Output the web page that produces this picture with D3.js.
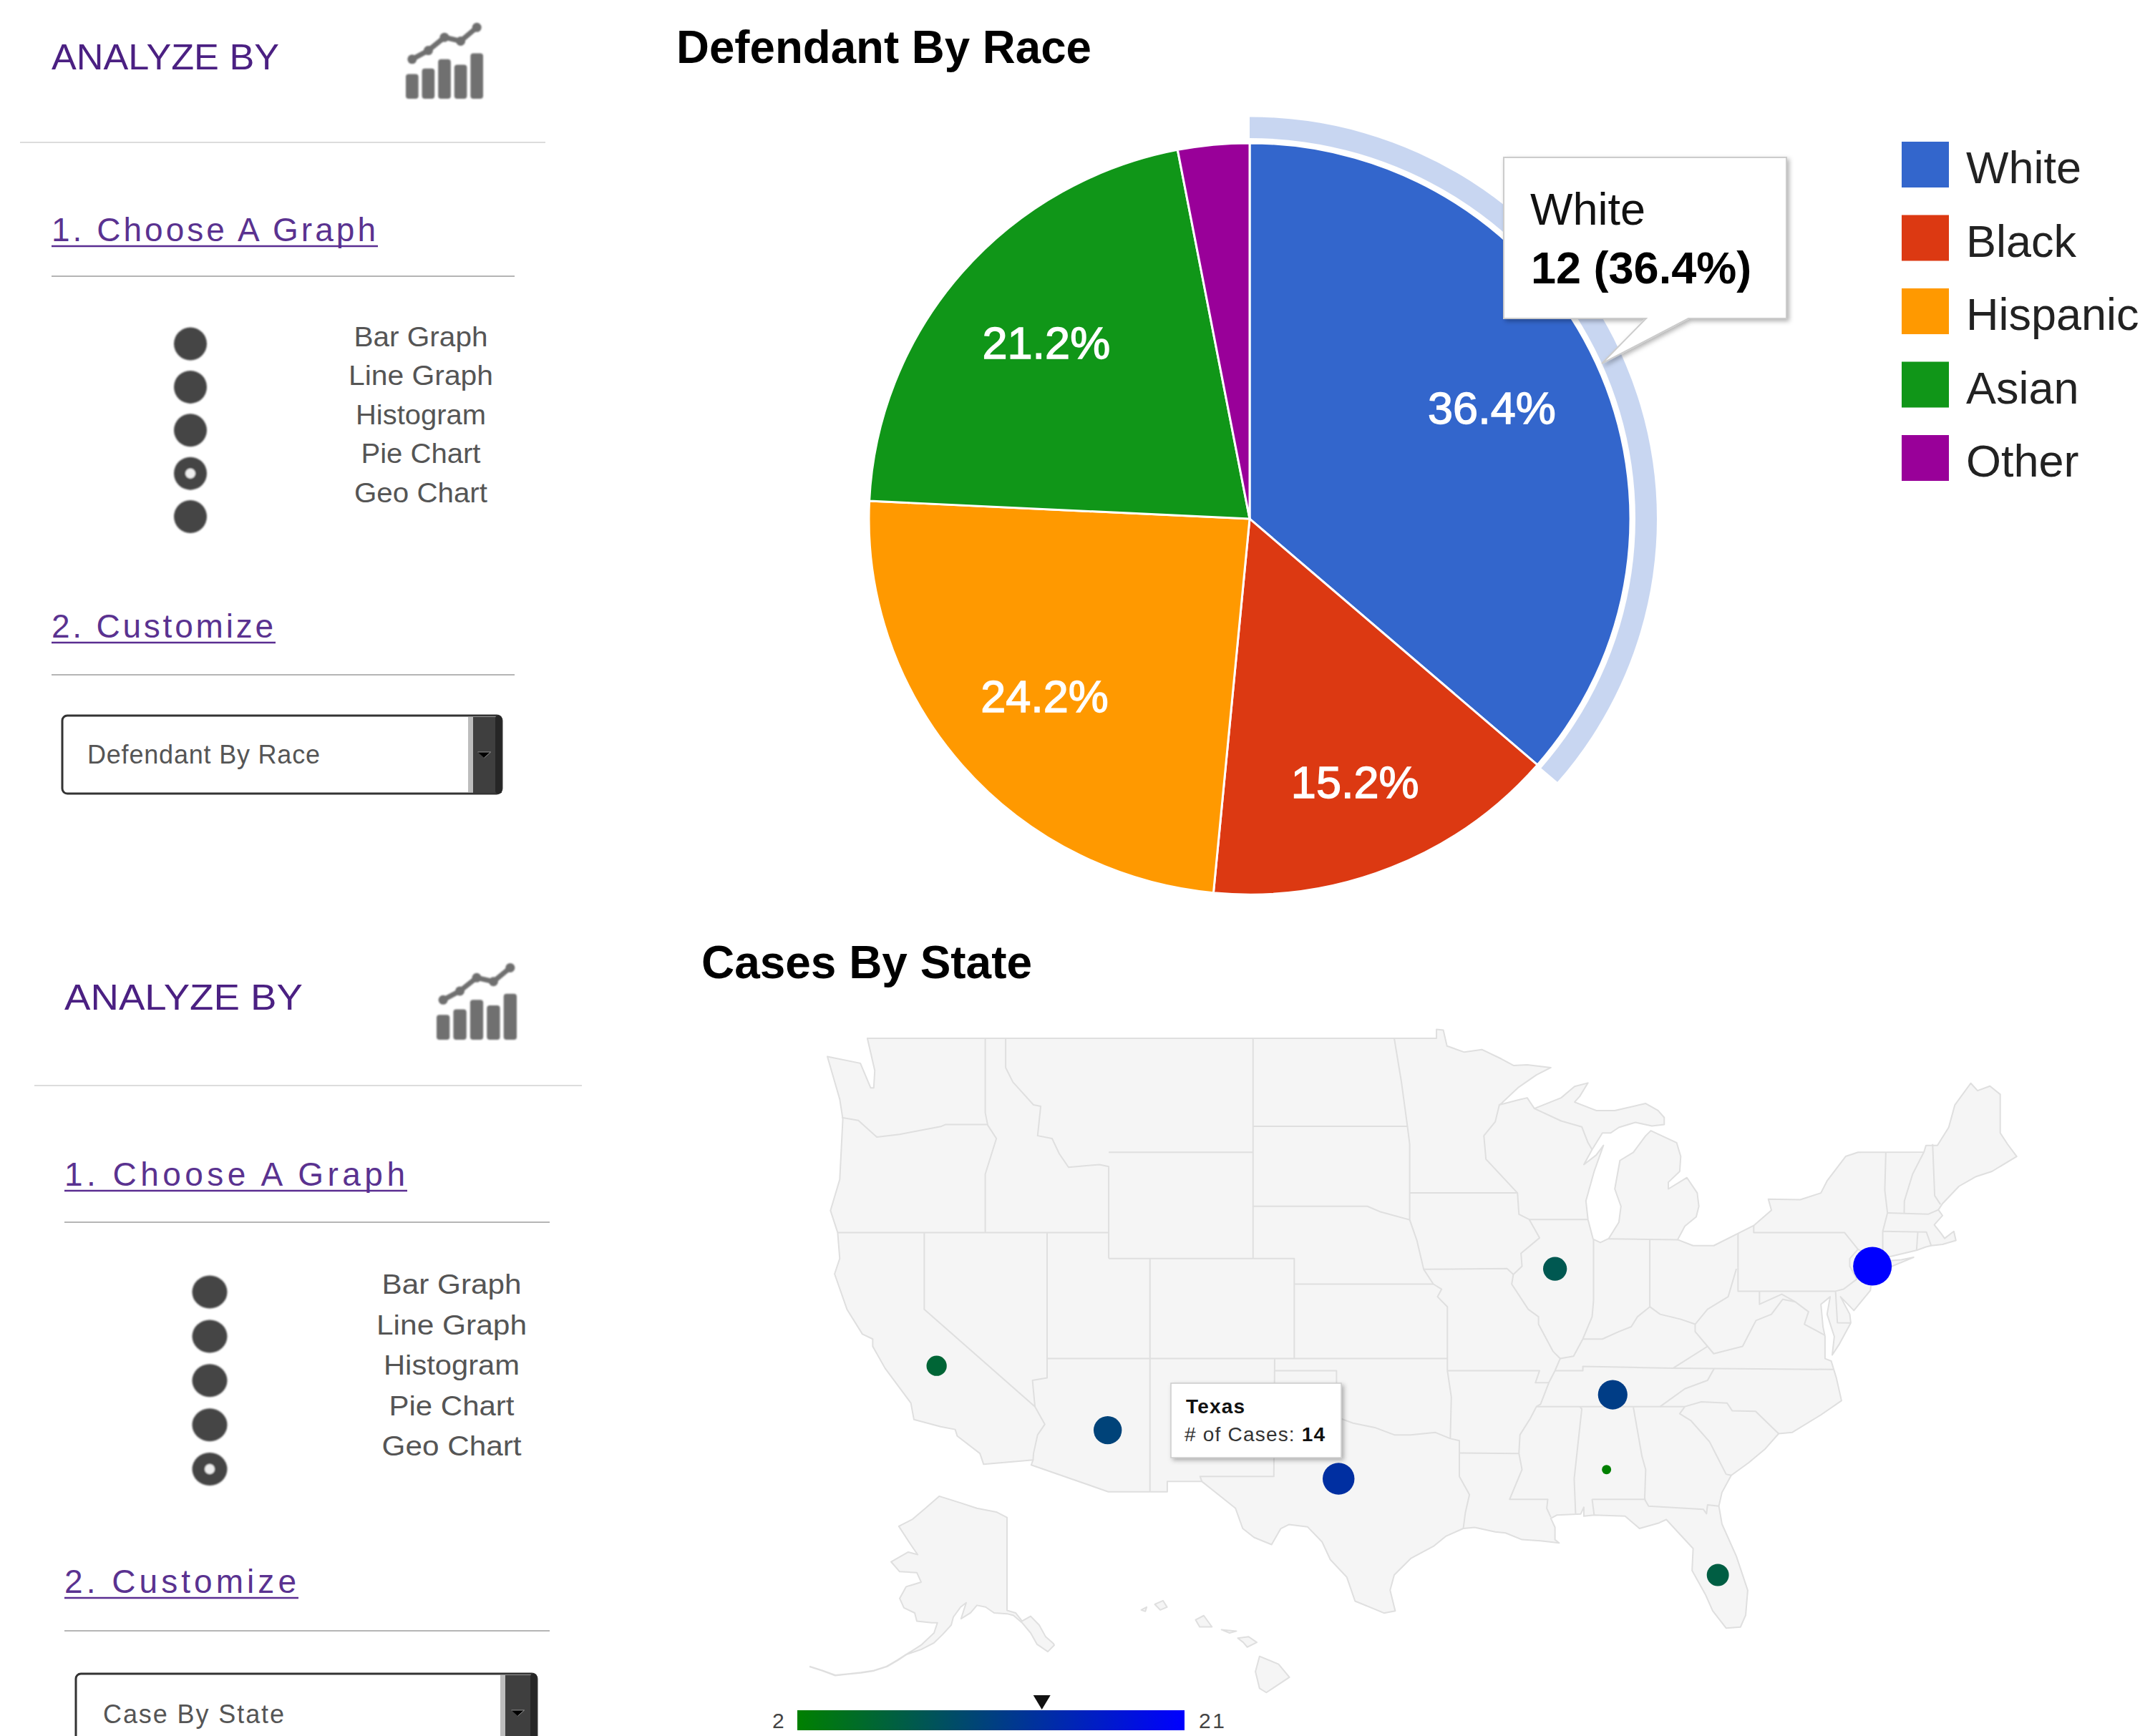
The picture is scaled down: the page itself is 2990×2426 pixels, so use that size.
<!DOCTYPE html>
<html>
<head>
<meta charset="utf-8">
<script src="https://cdn.jsdelivr.net/npm/d3@7"></script>
<style>
  body { margin: 0; background: #fff; }
  text { font-family: "Liberation Sans", Arial, sans-serif; }
</style>
</head>
<body>
<script>
// pie data
const raceNames = ["White", "Black", "Hispanic", "Asian", "Other"];
const raceCases = [12, 5, 8, 7, 1];
const raceColors = ["#3366cc", "#dc3912", "#ff9900", "#109618", "#990099"];

// geo data
const caseStates = ["California", "Arizona", "Texas", "Illinois", "Tennessee", "New York", "Alabama", "Florida"];
const caseValues = [6, 11, 14, 8, 12, 21, 2, 7];
const caseLon = [-119.4, -111.1, -99.9, -89.4, -86.6, -74.0, -86.9, -81.5];
const caseLat = [36.7, 34.0, 31.9, 40.6, 35.5, 40.7, 32.3, 27.6];
const caseRange = [2, 21];

// side panel text
const graphOptions = ["Bar Graph", "Line Graph", "Histogram", "Pie Chart", "Geo Chart"];
const iconBars = [45, 55, 72, 62, 83];
const iconLine = [72, 88, 112, 105, 130];

// basemap, lon/lat
const land48 = [[-122.76,49],[-95.15,49],[-95.15,49.3],[-94.82,49.28],[-94.64,48.74],[-93.8,48.53],[-92.95,48.62],[-92,48.3],[-91.4,48.07],[-90.75,48.1],[-89.6,48],[-90.3,47.75],[-91.2,47.3],[-92,46.75],[-92.1,46.7],[-91.2,46.87],[-90.75,46.95],[-90.4,46.57],[-89.1,46.95],[-88.45,47.35],[-87.8,47.47],[-88.2,47],[-88.45,46.8],[-87.4,46.5],[-86.5,46.5],[-85,46.75],[-84.4,46.5],[-84.1,46.25],[-84.1,46],[-84.7,45.95],[-85.5,46.08],[-86.3,45.9],[-86.7,45.7],[-87.1,45.7],[-87.6,45.1],[-88,44.55],[-87.4,44.9],[-87.05,45.25],[-87.5,44.3],[-87.9,43.2],[-87.8,42.5],[-87.55,41.75],[-87.2,41.62],[-86.8,41.77],[-86.3,42.4],[-86.2,43],[-86.5,43.65],[-86.25,44.7],[-85.6,45],[-85,45.6],[-84.75,45.78],[-83.5,45.35],[-83.3,44.85],[-83.35,44.3],[-83.9,43.9],[-83.9,43.65],[-83,44.07],[-82.5,43.5],[-82.42,43],[-82.55,42.6],[-83.1,42.25],[-83.45,41.73],[-82.7,41.5],[-81.7,41.5],[-80.5,41.98],[-79.76,42.27],[-78.9,42.85],[-79.05,43.27],[-77.5,43.25],[-76.5,43.5],[-76.2,43.95],[-75.3,44.85],[-74.7,45],[-71.5,45.01],[-71.4,45.25],[-70.85,45.25],[-70.3,45.9],[-70,46.7],[-69.23,47.46],[-68.9,47.2],[-68.3,47.36],[-67.8,47.07],[-67.8,45.7],[-67.45,45.3],[-67,44.85],[-68.2,44.3],[-69,44.1],[-69.8,43.75],[-70.6,43.1],[-70.8,42.87],[-70.6,42.65],[-71,42.3],[-70.65,41.95],[-70.5,41.78],[-70.05,42.05],[-69.95,41.7],[-70.6,41.55],[-71.15,41.5],[-71.4,41.45],[-71.86,41.32],[-73.65,40.98],[-74,40.75],[-74,40.45],[-74.1,39.75],[-74.9,38.95],[-75.55,39.5],[-75.1,38.8],[-75.05,38.45],[-75.6,37.6],[-75.95,37.15],[-75.85,37.9],[-76.2,38.8],[-76.05,39.5],[-76.5,39.2],[-76.4,38.3],[-76.3,37.9],[-76.3,37],[-76,36.9],[-75.75,36.2],[-75.5,35.25],[-76.5,34.65],[-77.9,33.9],[-78.55,33.85],[-79.2,33.2],[-80,32.6],[-80.85,32.05],[-81.3,31.3],[-81.45,30.7],[-81.3,29.9],[-80.6,28.45],[-80.05,26.9],[-80.15,25.75],[-80.4,25.2],[-81.1,25.15],[-81.75,25.95],[-82.1,26.7],[-82.75,27.8],[-82.7,28.8],[-83.4,29.5],[-84,30.1],[-84.35,29.95],[-85.3,29.7],[-86,30.25],[-87.5,30.3],[-88,30.25],[-88,30.65],[-88.15,30.35],[-89.3,30.3],[-89.6,30.15],[-89.4,29.75],[-89.4,29.2],[-89.2,29.05],[-90.1,29.15],[-91,29.2],[-91.8,29.5],[-92.3,29.55],[-93.3,29.75],[-93.85,29.7],[-94.7,29.35],[-95.3,28.9],[-96.4,28.35],[-97.2,27.6],[-97.4,26.9],[-97.15,25.95],[-97.7,25.85],[-98.2,26.05],[-99.1,26.4],[-99.5,27.5],[-100.3,28.3],[-100.7,29.1],[-101.4,29.77],[-102.3,29.88],[-102.7,29.7],[-103.15,28.98],[-104,29.3],[-104.55,29.7],[-104.9,30.6],[-106,31.4],[-106.53,31.78],[-108.21,31.78],[-108.21,31.33],[-111.07,31.33],[-114.81,32.5],[-114.72,32.72],[-117.12,32.53],[-117.3,33],[-118.4,33.75],[-118.5,34.03],[-119.2,34.15],[-120.5,34.45],[-120.65,35.15],[-121.9,36.6],[-122.5,37.5],[-122.5,37.8],[-123,38],[-123.75,39],[-124.35,40.4],[-124.1,41],[-124.2,42],[-124.55,42.84],[-124.1,44],[-123.95,46.2],[-124.1,46.9],[-124.7,48.38],[-123.1,48.15],[-122.6,47.3],[-122.45,47.3],[-122.4,47.9]];
const longIsland = [[-74,40.6],[-73.2,40.65],[-72,41.05],[-72.6,40.95],[-73.7,40.88]];
const stateLines = [
  [[-117.04,49],[-117.04,46.42],[-116.92,45.98],[-116.5,45.5],[-117.04,44.2],[-117.04,42]],
  [[-124,46.25],[-123.2,46.15],[-122.3,45.55],[-121.2,45.65],[-119.2,45.93],[-118.98,46],[-116.92,46]],
  [[-124.2,42],[-111.05,42]],
  [[-120,42],[-120,39],[-114.63,35]],
  [[-114.04,42],[-114.04,36.2],[-114.75,36.1],[-114.63,35],[-114.15,34.25],[-114.5,33.8],[-114.7,33],[-114.72,32.72]],
  [[-114.04,37],[-94.62,37]],
  [[-116.05,49],[-116.05,48],[-115.7,47.5],[-114.7,46.7],[-114.35,46.65],[-114.5,45.6],[-113.8,45.5],[-113.45,44.95],[-113,44.45],[-111.5,44.55],[-111.05,44.48],[-111.05,41]],
  [[-111.05,45],[-104.05,45]],
  [[-111.05,41],[-102.05,41],[-102.05,37]],
  [[-102.05,40],[-95.3,40]],
  [[-109.05,41],[-109.05,31.33]],
  [[-104.05,49],[-104.05,41]],
  [[-104.05,45.94],[-96.56,45.94]],
  [[-104.05,43],[-98.5,43],[-97.9,42.8],[-96.45,42.49]],
  [[-103,37],[-103.04,32],[-106.62,32],[-106.53,31.78]],
  [[-103,36.5],[-100,36.5],[-100,34.56],[-99.2,34.3],[-98.1,34.1],[-97.2,33.8],[-96.4,33.8],[-95.2,33.9],[-94.48,33.64],[-94.04,33.55],[-94.04,32],[-93.55,31.2],[-93.75,30.4],[-93.85,29.7]],
  [[-94.04,33.02],[-91.15,33]],
  [[-94.48,33.64],[-94.43,35.4],[-94.62,36.5],[-94.62,39.1],[-95.1,39.5],[-94.9,39.8],[-95.3,40],[-95.77,40.58],[-96.1,41.7],[-96.45,42.49],[-96.45,45.3],[-96.56,45.94],[-96.85,47.5],[-97.2,49]],
  [[-94.62,36.5],[-90.15,36.5],[-90.35,36],[-89.7,36]],
  [[-96.45,43.5],[-91.22,43.5]],
  [[-95.77,40.58],[-91.73,40.61],[-91.42,40.38]],
  [[-92.1,46.7],[-92.3,46.1],[-92.85,45.6],[-92.75,44.75],[-91.22,43.5],[-91.15,42.7],[-90.65,42.5],[-90.15,41.8],[-91.05,41.2],[-91,40.7],[-91.42,40.38],[-91.5,40],[-90.7,39],[-90.2,38.7],[-90.2,38.4],[-89.5,37.3],[-89.15,37],[-89.4,36.5],[-89.7,36],[-90.1,35.1],[-90.3,35],[-90.6,34.5],[-91.1,33.8],[-91.15,33],[-91,32.3],[-91.6,31],[-89.75,31],[-89.8,30.6],[-89.6,30.2]],
  [[-90.65,42.5],[-87.8,42.5]],
  [[-90.4,46.57],[-89.1,46.13],[-88.1,45.92],[-87.8,45.35],[-87.6,45.1]],
  [[-87.53,41.72],[-87.53,39.35],[-87.6,38.7],[-88.05,37.8],[-88.5,37.1],[-89.15,37]],
  [[-86.8,41.76],[-83.45,41.73]],
  [[-84.8,41.76],[-84.8,39.1]],
  [[-88.05,37.8],[-87.1,37.8],[-86.3,38.1],[-85.7,38.3],[-85.4,38.7],[-84.8,39.1],[-84.3,38.8],[-83.3,38.6],[-82.6,38.4],[-82,39],[-81,39.5],[-80.6,40.6]],
  [[-80.52,40.64],[-80.52,41.98]],
  [[-79.76,42.27],[-79.76,42],[-75.35,42],[-74.7,41.36],[-75.1,41],[-75.1,40.7],[-74.75,40.2],[-75.4,39.8],[-75.79,39.72]],
  [[-80.52,40.64],[-80.52,39.72],[-75.79,39.72],[-75.7,38.46],[-75.05,38.45]],
  [[-79.48,39.72],[-79.48,39.2],[-78.4,39.6],[-77.75,39.3],[-77.1,38.9],[-77.3,38.4],[-76.3,37.95]],
  [[-77.75,39.3],[-78.35,39.4],[-78.9,38.8],[-79.65,38.55],[-80.3,37.5],[-81.7,37.2],[-82,37.5],[-82.6,38.1],[-82.6,38.4]],
  [[-82,37.5],[-83.68,36.6]],
  [[-89.4,36.5],[-88.05,36.5],[-88.05,36.68],[-83.68,36.6],[-81.68,36.59],[-75.9,36.55]],
  [[-81.68,36.59],[-82,36.1],[-83.1,35.75],[-84.3,35]],
  [[-90.3,35],[-83.1,35]],
  [[-85.6,34.98],[-85.18,32.87],[-85,32.3],[-85.05,31],[-84.86,30.7],[-82.2,30.55],[-82.05,30.36],[-82,30.75],[-81.45,30.7]],
  [[-88.2,35],[-88.1,34.9],[-88.47,31.9],[-88.4,30.35]],
  [[-87.6,31],[-85,31]],
  [[-87.6,31],[-87.5,30.3]],
  [[-83.1,35],[-83.35,34.7],[-82.8,34.4],[-81.9,33.5],[-81.1,32.1],[-80.85,32.05]],
  [[-83.1,35],[-82.3,35.2],[-81.05,35.15],[-80.8,34.82],[-79.67,34.8],[-78.55,33.85]],
  [[-73.35,45],[-73.4,43.6],[-73.27,42.75],[-73.5,42.05],[-73.5,41.3],[-73.65,41]],
  [[-71.5,45.01],[-72.05,44.2],[-72.45,43.2],[-72.46,42.73]],
  [[-73.27,42.75],[-71.3,42.7],[-70.8,42.87]],
  [[-71.08,45.3],[-70.98,43.4],[-70.7,43.07]],
  [[-73.5,42.05],[-71.38,42.02],[-71.15,41.5]],
  [[-71.8,42.02],[-71.86,41.32]],
  [[-74.7,41.36],[-73.9,41]]
];
const alaskaLand = [[-141,69.65],[-143.5,70.1],[-148,70.4],[-152,70.85],[-156.8,71.35],[-160,70.4],[-163,69.5],[-166.2,68.9],[-164,67.6],[-163,67],[-161.8,66.3],[-164,66.55],[-168,65.6],[-166,64.6],[-162,64.5],[-161,63.5],[-164.5,63],[-166,61.7],[-165,60.6],[-162.5,60],[-162,59],[-158.5,58.8],[-157.2,58.8],[-158,57.5],[-161,55.9],[-164.5,54.6],[-161,55.3],[-158,56.2],[-156,57.3],[-154,58.5],[-153.5,59.5],[-151.8,60.7],[-150.5,61.2],[-151.7,59.3],[-149.5,60],[-148,60.9],[-146,60.7],[-144,60],[-141,59.9],[-139.5,59.7],[-137.5,58.8],[-135.5,57.5],[-134,56],[-131.5,55],[-130,55.9],[-130.2,56.1],[-132,57],[-133.5,58.5],[-135.5,59.6],[-137.5,59],[-139,60],[-141,60.3]];
const aleutians = [[-164.5,54.6],[-166.5,53.8],[-169,52.9],[-172,52.3],[-175,52],[-178,51.8],[-181,51.6],[-184,52.3],[-187,52.9]];
const hawaiiIslands = [
  [[-155.9,20.25],[-155.2,19.97],[-154.8,19.5],[-155.65,18.95],[-155.9,19.1],[-156.05,19.7]],
  [[-156.7,20.9],[-156.3,20.95],[-156,20.75],[-156.35,20.58],[-156.5,20.75]],
  [[-157.3,21.2],[-156.75,21.15],[-157,21.08]],
  [[-158.25,21.55],[-157.95,21.7],[-157.65,21.3],[-158.1,21.3]],
  [[-159.75,22.1],[-159.45,22.23],[-159.3,22],[-159.55,21.9]],
  [[-160.25,21.9],[-160.05,22],[-160.1,21.85]]
];

const width = 2990, height = 2426;

const svg = d3.select("body").append("svg")
  .attr("width", width)
  .attr("height", height)
  .style("display", "block");

const defs = svg.append("defs");
const shadow = defs.append("filter").attr("id", "tipShadow")
  .attr("x", "-10%").attr("y", "-10%").attr("width", "125%").attr("height", "125%");
shadow.append("feDropShadow")
  .attr("dx", 3).attr("dy", 3).attr("stdDeviation", 3)
  .attr("flood-color", "#000").attr("flood-opacity", 0.3);
const soft = defs.append("filter").attr("id", "soft");
soft.append("feGaussianBlur").attr("stdDeviation", 1.1);
const softMap = defs.append("filter").attr("id", "softMap");
softMap.append("feGaussianBlur").attr("stdDeviation", 0.7);

// text helper, fits the string to a measured width
function label(parent, str, x, y, size, fill, w, adjust) {
  const t = parent.append("text")
    .attr("x", x).attr("y", y)
    .attr("font-size", size)
    .attr("fill", fill)
    .text(str);
  if (w) t.attr("textLength", w).attr("lengthAdjust", adjust || "spacing");
  return t;
}

// ---------- side panels ----------
function drawPanel(p) {
  const g = svg.append("g");

  label(g, "ANALYZE BY", p.x0, p.headY, 50, "#4b2082", p.headW, "spacingAndGlyphs");

  // icon
  const ic = g.append("g").attr("transform", `translate(${p.icon[0]},${p.icon[1]})`)
    .attr("filter", "url(#soft)");
  const ix = d3.scaleBand().domain(d3.range(iconBars.length)).range([0, p.icon[2]])
    .paddingInner(0.22).paddingOuter(0);
  const iy = d3.scaleLinear().domain([0, 137]).range([p.icon[3], 0]);
  ic.selectAll("rect").data(iconBars).enter().append("rect")
    .attr("x", (d, i) => ix(i))
    .attr("y", d => iy(d))
    .attr("width", ix.bandwidth())
    .attr("height", d => iy(0) - iy(d))
    .attr("rx", 4)
    .attr("fill", "#6f6f6f");
  ic.append("path")
    .attr("d", d3.line().x((d, i) => ix(i) + ix.bandwidth() / 2).y(d => iy(d))(iconLine))
    .attr("fill", "none").attr("stroke", "#6f6f6f").attr("stroke-width", 7);
  ic.selectAll("circle").data(iconLine).enter().append("circle")
    .attr("cx", (d, i) => ix(i) + ix.bandwidth() / 2)
    .attr("cy", d => iy(d))
    .attr("r", 6.5)
    .attr("fill", "#6f6f6f");

  // rules
  g.append("line").attr("x1", p.rule0[0]).attr("x2", p.rule0[1]).attr("y1", p.rule0[2]).attr("y2", p.rule0[2])
    .attr("stroke", "#dcdcdc").attr("stroke-width", 2);
  [p.h1.ruleY, p.h2.ruleY].forEach(y => {
    g.append("line").attr("x1", p.x0).attr("x2", p.ruleX1).attr("y1", y).attr("y2", y)
      .attr("stroke", "#b5b5b5").attr("stroke-width", 2);
  });

  // step headings
  [["1. Choose A Graph", p.h1], ["2. Customize", p.h2]].forEach(([s, h]) => {
    label(g, s, p.x0, h.y, 46, "#5a3290", h.w - 3, "spacing");
    g.append("line").attr("x1", p.x0).attr("x2", p.x0 + h.w).attr("y1", h.y + 7).attr("y2", h.y + 7)
      .attr("stroke", "#5a2d91").attr("stroke-width", 2.5);
  });

  // radio column
  const ry = d3.scalePoint().domain(graphOptions).range(p.radioY);
  const radios = g.append("g").attr("filter", "url(#soft)");
  radios.selectAll("ellipse.dot").data(graphOptions).enter().append("ellipse")
    .attr("class", "dot")
    .attr("cx", p.radioX).attr("cy", d => ry(d))
    .attr("rx", p.radioR[0]).attr("ry", p.radioR[1])
    .attr("fill", "#444");
  radios.append("circle")
    .attr("cx", p.radioX).attr("cy", ry(p.selected)).attr("r", 7)
    .attr("fill", "#eee");

  const ly = d3.scalePoint().domain(graphOptions).range(p.labelY);
  graphOptions.forEach((o, i) => {
    label(g, o, p.labelX, ly(o), 38, "#555", p.labelW[i], "spacingAndGlyphs")
      .attr("text-anchor", "middle");
  });

  // dropdown
  const b = p.box;
  g.append("rect").attr("x", b.x).attr("y", b.y).attr("width", b.w).attr("height", b.h).attr("rx", 7)
    .attr("fill", "#fff").attr("stroke", "#333").attr("stroke-width", 3);
  g.append("rect").attr("x", b.btn).attr("y", b.y + 2).attr("width", 7).attr("height", b.h - 4).attr("fill", "#bdbdbd");
  g.append("rect").attr("x", b.btn + 7).attr("y", b.y + 2).attr("width", b.x + b.w - b.btn - 7).attr("height", b.h - 3).attr("fill", "#3f3f3f");
  g.append("rect").attr("x", b.x + b.w - 9).attr("y", b.y).attr("width", 9).attr("height", b.h).attr("rx", 4).attr("fill", "#262626");
  const cx = (b.btn + 7 + b.x + b.w - 9) / 2;
  const cy = b.y + 54;
  g.append("path").attr("d", d3.line()([[cx - 9, cy - 3], [cx + 9, cy - 3], [cx, cy + 5]])).attr("fill", "#000").attr("stroke", "#ddd").attr("stroke-width", 0.6);
  label(g, p.selText, b.textX, b.textY, 36, "#555", b.textW, "spacing");
}

drawPanel({
  x0: 72, headY: 97, headW: 318, icon: [567, 33, 108, 105],
  rule0: [28, 762, 199], ruleX1: 719,
  h1: { y: 337, w: 456, ruleY: 386 }, h2: { y: 891, w: 313, ruleY: 943 },
  radioX: 266, radioY: [480.5, 722], radioR: [23, 23], selected: "Pie Chart",
  labelX: 588, labelY: [483.5, 702], labelW: [187, 202, 182, 167, 186],
  box: { x: 87, y: 1000, w: 614, h: 109, btn: 654, textX: 122, textY: 1067, textW: 325 },
  selText: "Defendant By Race"
});
drawPanel({
  x0: 90, headY: 1411, headW: 333, icon: [610, 1347, 112, 106],
  rule0: [48, 813, 1517], ruleX1: 768,
  h1: { y: 1657, w: 479, ruleY: 1708 }, h2: { y: 2226, w: 327, ruleY: 2279 },
  radioX: 293, radioY: [1805.6, 2053], radioR: [24.5, 23], selected: "Geo Chart",
  labelX: 631, labelY: [1808, 2034], labelW: [195, 210, 190, 175, 195],
  box: { x: 106, y: 2339, w: 644, h: 130, btn: 699, textX: 144, textY: 2408, textW: 253 },
  selText: "Case By State"
});

// ---------- pie ----------
label(svg, "Defendant By Race", 945, 88, 64, "#000", 580, "spacingAndGlyphs").attr("font-weight", "bold");

const pieX = 1746, pieY = 725;
const pieData = d3.pie().sort(null)(raceCases);
const pieG = svg.append("g").attr("transform", `translate(${pieX},${pieY}) scale(1,0.987)`);
const sliceArc = d3.arc().innerRadius(0).outerRadius(532);
// labels do not sit on one radius in the source
const labelRadii = [372, 396, 379, 376, 0];
const labelArc = d3.arc().innerRadius((d, i) => labelRadii[i]).outerRadius((d, i) => labelRadii[i]);
const ringArc = d3.arc().innerRadius(539).outerRadius(569);

pieG.append("path")
  .attr("d", ringArc(pieData[0]))
  .attr("fill", raceColors[0])
  .attr("fill-opacity", 0.27);
pieG.selectAll("path.slice").data(pieData).enter().append("path")
  .attr("class", "slice")
  .attr("d", sliceArc)
  .attr("fill", (d, i) => raceColors[i])
  .attr("stroke", "#fff")
  .attr("stroke-width", 3);

const total = d3.sum(raceCases);
const pct = v => (v / total * 100).toFixed(1) + "%";
pieData.forEach((d, i) => {
  if (d.value / total <= 0.05) return;
  const [lx, ly] = labelArc.centroid(d, i);
  svg.append("text")
    .attr("x", pieX + lx).attr("y", pieY + ly + 22)
    .attr("text-anchor", "middle")
    .attr("font-size", 63)
    .attr("fill", "#fff").attr("stroke", "#fff").attr("stroke-width", 1.4)
    .text(pct(d.value));
});

// pie legend
const legendY = d3.scalePoint().domain(raceNames).range([198, 608]);
const legend = svg.append("g");
legend.selectAll("rect").data(raceNames).enter().append("rect")
  .attr("x", 2657).attr("y", d => legendY(d))
  .attr("width", 66).attr("height", 64)
  .attr("fill", (d, i) => raceColors[i]);
legend.selectAll("text").data(raceNames).enter().append("text")
  .attr("x", 2747).attr("y", d => legendY(d) + 58)
  .attr("font-size", 63).attr("fill", "#222")
  .text(d => d);

// pie tooltip
const tip = svg.append("g").attr("filter", "url(#tipShadow)");
tip.append("path")
  .attr("d", d3.line()([[2101, 220], [2496, 220], [2496, 445], [2359, 445], [2238, 508], [2300, 445], [2101, 445]]) + "Z")
  .attr("fill", "#fff").attr("stroke", "#ccc").attr("stroke-width", 2);
label(svg, raceNames[0], 2138, 314, 63, "#111");
label(svg, `${raceCases[0]} (${pct(raceCases[0])})`, 2139, 396, 63, "#000").attr("font-weight", "bold");

// ---------- geo chart ----------
label(svg, "Cases By State", 980, 1367, 64, "#000", 462, "spacingAndGlyphs").attr("font-weight", "bold");

const merc = lat => Math.asinh(Math.tan(lat * Math.PI / 180));
// main map and insets share a mercator y, x is stretched a little in the source
function makeProj(lon0, x0, pxPerDeg, lat0, y0, k) {
  const xs = d3.scaleLinear().domain([lon0, lon0 + 1]).range([x0, x0 + pxPerDeg]);
  const ys = d3.scaleLinear().domain([merc(lat0), merc(lat0) + 1]).range([y0, y0 - k]);
  return ([lon, lat]) => [xs(lon), ys(merc(lat))];
}
const proj = makeProj(-124.7, 1156, 28.8, 49, 1451, 1555);
const projAk = makeProj(-141, 1407, 6, 71.4, 2090, 333);
const projHi = makeProj(-155.5, 1775, 38, 19.6, 2340, 2100);

const ring = (pts, pr) => d3.line()(pts.map(pr)) + "Z";
const open = (pts, pr) => d3.line()(pts.map(pr));

const map = svg.append("g")
  .attr("fill", "#f5f5f5")
  .attr("stroke", "#dfdfdf")
  .attr("stroke-width", 2)
  .attr("stroke-linejoin", "round")
  .attr("filter", "url(#softMap)");
map.append("path").attr("d", ring(land48, proj));
map.append("path").attr("d", ring(longIsland, proj));
map.append("path").attr("d", ring(alaskaLand, projAk));
map.selectAll("path.hi").data(hawaiiIslands).enter().append("path")
  .attr("class", "hi")
  .attr("d", d => ring(d, projHi));
map.append("path").attr("d", open(aleutians, projAk)).attr("fill", "none").attr("stroke-width", 2.5);
map.selectAll("path.st").data(stateLines).enter().append("path")
  .attr("class", "st")
  .attr("d", d => open(d, proj))
  .attr("fill", "none");

const color = d3.scaleLinear().domain(caseRange).range(["#008000", "#0000ff"]);
const radius = d3.scalePow().exponent(0.33).domain(caseRange).range([6.5, 27]);
svg.append("g").selectAll("circle").data(caseStates).enter().append("circle")
  .attr("cx", (d, i) => proj([caseLon[i], caseLat[i]])[0])
  .attr("cy", (d, i) => proj([caseLon[i], caseLat[i]])[1])
  .attr("r", (d, i) => radius(caseValues[i]))
  .attr("fill", (d, i) => color(caseValues[i]));

// color axis
const axisX = d3.scaleLinear().domain(caseRange).range([1114, 1655]);
const grad = defs.append("linearGradient").attr("id", "caseGrad");
caseRange.forEach((v, i) => {
  grad.append("stop").attr("offset", i).attr("stop-color", color(v));
});
svg.append("rect")
  .attr("x", axisX(caseRange[0])).attr("y", 2390)
  .attr("width", axisX(caseRange[1]) - axisX(caseRange[0])).attr("height", 28)
  .attr("fill", "url(#caseGrad)");
label(svg, caseRange[0], 1079, 2415, 30, "#444");
label(svg, caseRange[1], 1675, 2415, 30, "#444", 36, "spacing");
const hovered = caseValues[caseStates.indexOf("Texas")];
svg.append("path")
  .attr("d", d3.line()([[axisX(hovered) - 12, 2369], [axisX(hovered) + 12, 2369], [axisX(hovered), 2389]]) + "Z")
  .attr("fill", "#111");

// geo tooltip
svg.append("rect")
  .attr("x", 1636).attr("y", 1933).attr("width", 238).attr("height", 104)
  .attr("fill", "#fff").attr("stroke", "#ccc").attr("stroke-width", 1.5)
  .attr("filter", "url(#tipShadow)");
label(svg, "Texas", 1657, 1975, 28, "#111").attr("font-weight", "bold").attr("letter-spacing", 1.2);
const caseLine = label(svg, "# of Cases: ", 1655, 2014, 28, "#333").attr("letter-spacing", 1.2).attr("xml:space", "preserve");
caseLine.append("tspan").attr("font-weight", "bold").attr("fill", "#111").text(hovered);
</script>
</body>
</html>
